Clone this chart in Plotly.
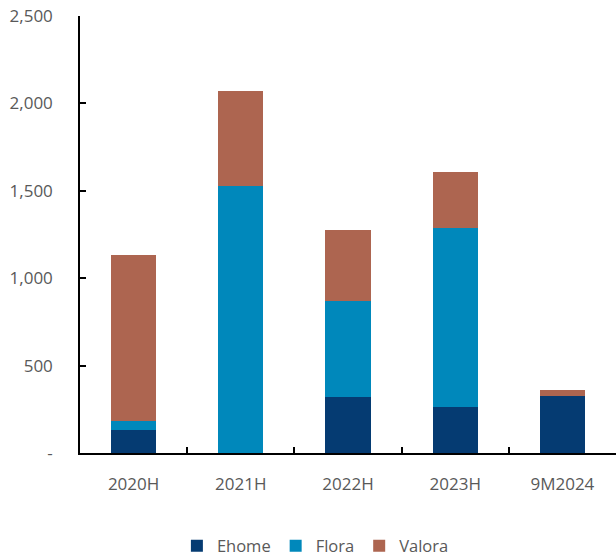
import plotly.graph_objects as go

categories = ["2020H", "2021H", "2022H", "2023H", "9M2024"]
ehome = [131, 0, 320, 261, 325]
flora = [52, 1527, 548, 1028, 0]
valora = [948, 544, 409, 317, 34]

y_ticks = [0, 500, 1000, 1500, 2000, 2500]
y_ticktext = ["-", "500", "1,000", "1,500", "2,000", "2,500"]

colors = {"Ehome": "#053B72", "Flora": "#0088BB", "Valora": "#AD6550"}

fig = go.Figure()
for name, vals in [("Ehome", ehome), ("Flora", flora), ("Valora", valora)]:
    fig.add_trace(go.Bar(x=categories, y=vals, name=name,
                         marker=dict(color=colors[name], line=dict(width=0))))

font_fam = "Open Sans, Noto Sans, sans-serif"
fig.update_layout(
    barmode="stack",
    bargap=0.58,
    width=616, height=558,
    margin=dict(l=80, r=0, t=16, b=105),
    plot_bgcolor="white", paper_bgcolor="white",
    font=dict(family=font_fam, size=17, color="#595959"),
    showlegend=True,
    legend=dict(orientation="h", xref="container", x=0.512, xanchor="center",
                yref="container", y=12/558, yanchor="middle",
                font=dict(size=16.5, color="#595959"), traceorder="normal",
                itemwidth=30),
)
fig.update_xaxes(
    showline=True, linecolor="black", linewidth=1.5,
    ticks="inside", ticklen=6, tickcolor="black", tickwidth=1.5,
    tickson="boundaries", ticklabelstandoff=15,
    showgrid=False, tickfont=dict(size=17, color="#595959"),
)
fig.update_yaxes(
    range=[0, 2500], tickvals=y_ticks, ticktext=y_ticktext,
    showline=True, linecolor="black", linewidth=1.5,
    ticks="inside", ticklen=6, tickcolor="black", tickwidth=1.5,
    showgrid=False, zeroline=False, ticklabelstandoff=22,
    tickfont=dict(size=17, color="#595959"),
)

fig.write_html("out.html")
